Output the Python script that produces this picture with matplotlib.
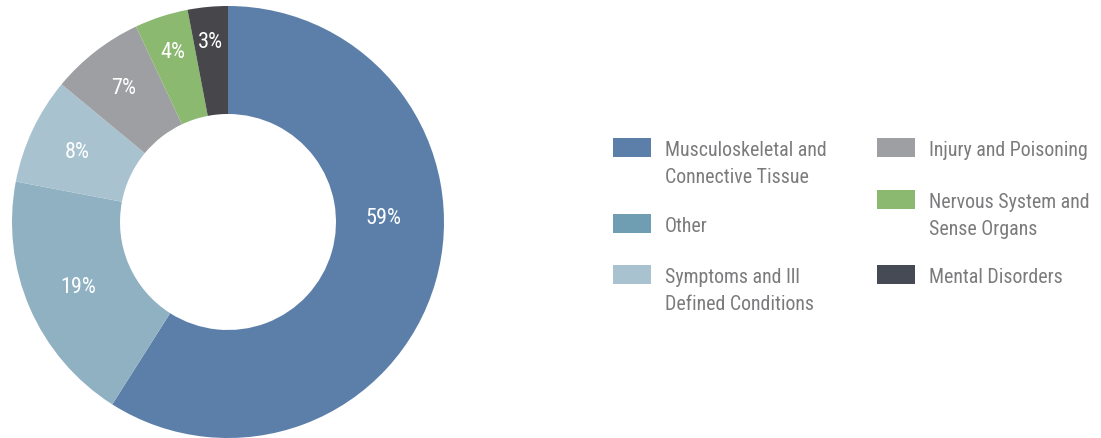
import matplotlib
matplotlib.use("Agg")
import matplotlib.pyplot as plt
from matplotlib.patches import Rectangle
import numpy as np

# data
categories = ["Musculoskeletal and\nConnective Tissue", "Other",
              "Symptoms and Ill\nDefined Conditions", "Injury and Poisoning",
              "Nervous System and\nSense Organs", "Mental Disorders"]
shares = [59, 19, 8, 7, 4, 3]
pct_labels = ["59%", "19%", "8%", "7%", "4%", "3%"]

slice_colors = ["#5b7fa9", "#8fb1c2", "#a8c3cf", "#9e9fa3", "#8bb970", "#47474b"]
legend_colors = ["#5b7fa9", "#6f9db1", "#a8c3cf", "#9e9fa3", "#8bb970", "#464a55"]

plt.rcParams['font.family'] = ['Roboto Condensed', 'DejaVu Sans']

fig = plt.figure(figsize=(11.01, 4.39), dpi=100)
W, H = 1101, 439

# pie axes: center (228, 223) px, radius 216 px
cx, cy, r = 228, 223, 216
ax = fig.add_axes([(cx - r) / W, (H - cy - r) / H, 2 * r / W, 2 * r / H])
wedges, _ = ax.pie(shares, colors=slice_colors, startangle=90, counterclock=False,
                   radius=1.0, wedgeprops=dict(width=0.5, linewidth=0))
ax.set_xlim(-1, 1)
ax.set_ylim(-1, 1)
ax.set_aspect('equal')
ax.axis('off')

# percentage labels; the big slice's label sits near 3 o'clock,
# small slices sit a little further out
label_dist = [0.72, 0.755, 0.77, 0.79, 0.83, 0.84]
label_turn = [18, 0, 0, 0, 0, 0]
for w, txt, d, t in zip(wedges, pct_labels, label_dist, label_turn):
    ang = np.deg2rad((w.theta1 + w.theta2) / 2 + t)
    ax.text(d * np.cos(ang), d * np.sin(ang), txt, color='white',
            fontsize=16, ha='center', va='center')

# legend drawn by hand in two columns
col_x = [613, 877]
row_y = [148, 224, 275, 148, 200, 275]
cols = [0, 0, 0, 1, 1, 1]
for name, c, col, yy in zip(categories, legend_colors, cols, row_y):
    x0 = col_x[col]
    fig.patches.append(Rectangle((x0 / W, (H - yy - 9.5) / H), 38 / W, 19 / H,
                                 transform=fig.transFigure, facecolor=c,
                                 edgecolor='none'))
    fig.text((x0 + 52) / W, (H - yy + 7) / H, name, color='#7b7b7d',
             fontsize=14.3, ha='left', va='top', linespacing=1.52)

fig.savefig("out.png", dpi=100)
